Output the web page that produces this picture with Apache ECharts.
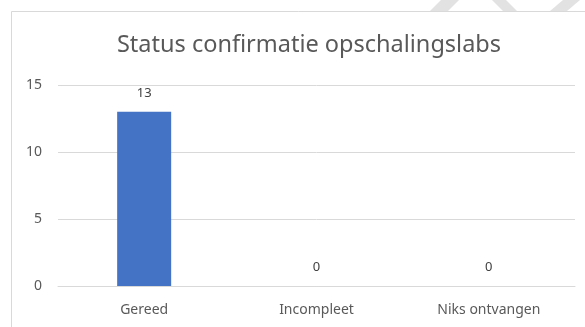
<!DOCTYPE html>
<html>
<head>
<meta charset="utf-8">
<script src="https://cdn.jsdelivr.net/npm/echarts@6/dist/echarts.min.js"></script>
<style>
  html, body { margin: 0; padding: 0; background: #ffffff; }
  #chart { width: 585px; height: 327px; }
</style>
</head>
<body>
<div id="chart"></div>
<script>
// Lab confirmation status counts
const categories = ['Gereed', 'Incompleet', 'Niks ontvangen'];
const counts = [13, 0, 0];
const yTicks = { min: 0, max: 15, interval: 5 };
const titleText = 'Status confirmatie opschalingslabs';

const FONT = '"Noto Sans", "Open Sans", sans-serif';
const TEXT = '#595959';
const GRID = '#d9d9d9';

const chart = echarts.init(document.getElementById('chart'), null, { renderer: 'canvas' });

chart.setOption({
  backgroundColor: '#ffffff',
  animation: false,
  textStyle: { fontFamily: FONT },
  graphic: [
    // faint diagonal strokes at the top edge
    { type: 'polygon', z: -10, silent: true,
      shape: { points: [[430, 11], [448, 11], [459, 0], [441, 0]] },
      style: { fill: '#e2e2e2' } },
    { type: 'polygon', z: -10, silent: true,
      shape: { points: [[492, 0], [506, 0], [517, 11], [503, 11]] },
      style: { fill: '#e2e2e2' } },
    { type: 'polygon', z: -10, silent: true,
      shape: { points: [[550, 11], [567, 11], [580, 0], [563, 0]] },
      style: { fill: '#e2e2e2' } },
    // chart frame
    { type: 'rect', z: -5, silent: true,
      shape: { x: 11.5, y: 11.5, width: 600, height: 340 },
      style: { fill: '#ffffff', stroke: GRID, lineWidth: 1 } }
  ],
  title: {
    text: titleText,
    left: 304,
    top: 28,
    textAlign: 'center',
    textStyle: { fontFamily: FONT, fontSize: 23.5, fontWeight: 'normal', color: TEXT }
  },
  grid: { left: 58, right: 10, top: 85, bottom: 41, containLabel: false },
  xAxis: {
    type: 'category',
    data: categories,
    axisLine: { show: true, lineStyle: { color: GRID, width: 1 } },
    axisTick: { show: false },
    axisLabel: { color: TEXT, fontFamily: FONT, fontSize: 14, margin: 17 }
  },
  yAxis: {
    type: 'value',
    min: yTicks.min,
    max: yTicks.max,
    interval: yTicks.interval,
    axisLine: { show: false },
    axisTick: { show: false },
    axisLabel: { color: TEXT, fontFamily: FONT, fontSize: 14, margin: 16 },
    splitLine: { show: true, lineStyle: { color: GRID, width: 1 } }
  },
  series: [{
    type: 'bar',
    data: counts,
    barWidth: 54,
    itemStyle: { color: '#4472c4' },
    label: {
      show: true,
      position: 'top',
      distance: 12,
      color: '#404040',
      fontFamily: FONT,
      fontSize: 13
    }
  }]
});
</script>
</body>
</html>
